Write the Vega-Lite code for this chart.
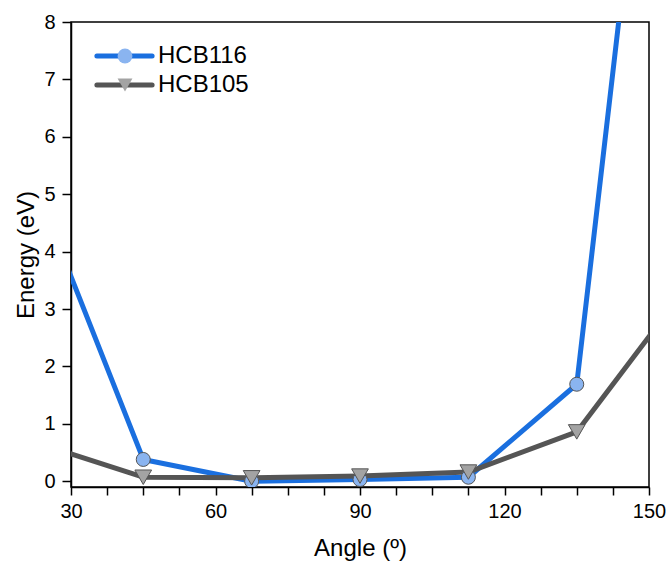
{
  "$schema": "https://vega.github.io/schema/vega-lite/v6.json",
  "autosize": "none",
  "padding": {"left": 71, "top": 22, "right": 19, "bottom": 76},
  "width": 578,
  "height": 465,
  "background": "white",
  "config": {
    "font": "Liberation Sans",
    "view": {"stroke": "black", "strokeWidth": 1.5},
    "axis": {"grid": false}
  },
  "data": {
    "values": [
      {"angle": 22.5, "energy": 5.16, "series": "HCB116"},
      {"angle": 45, "energy": 0.38, "series": "HCB116"},
      {"angle": 67.5, "energy": 0.0, "series": "HCB116"},
      {"angle": 90, "energy": 0.03, "series": "HCB116"},
      {"angle": 112.5, "energy": 0.07, "series": "HCB116"},
      {"angle": 135, "energy": 1.69, "series": "HCB116"},
      {"angle": 157.5, "energy": 18.0, "series": "HCB116"},
      {"angle": 22.5, "energy": 0.68, "series": "HCB105"},
      {"angle": 45, "energy": 0.07, "series": "HCB105"},
      {"angle": 67.5, "energy": 0.06, "series": "HCB105"},
      {"angle": 90, "energy": 0.09, "series": "HCB105"},
      {"angle": 112.5, "energy": 0.16, "series": "HCB105"},
      {"angle": 135, "energy": 0.86, "series": "HCB105"},
      {"angle": 157.5, "energy": 3.35, "series": "HCB105"}
    ]
  },
  "encoding": {
    "x": {
      "field": "angle", "type": "quantitative",
      "scale": {"domain": [30, 150], "nice": false, "zero": false},
      "axis": {
        "title": "Angle (º)",
        "values": [30, 37.5, 45, 52.5, 60, 67.5, 75, 82.5, 90, 97.5, 105, 112.5, 120, 127.5, 135, 142.5, 150],
        "format": "d",
        "labelExpr": "datum.value % 30 === 0 ? datum.label : ''",
        "labelOverlap": false,
        "labelFlush": false,
        "labelFontSize": 20,
        "labelColor": "black",
        "labelPadding": 6,
        "tickSize": 8,
        "tickWidth": 1.5,
        "tickColor": "black",
        "domainColor": "black",
        "domainWidth": 1.5,
        "titleFontSize": 24,
        "titleFontWeight": "normal",
        "titleColor": "black",
        "titlePadding": 15,
        "encode": {"ticks": {"update": {"y2": {"signal": "datum.value % 30 === 0 ? 8 : 4"}}}}
      }
    },
    "y": {
      "field": "energy", "type": "quantitative",
      "scale": {"domain": [-0.1, 8], "nice": false, "zero": false},
      "axis": {
        "title": "Energy (eV)",
        "values": [0, 0.25, 0.5, 0.75, 1, 1.25, 1.5, 1.75, 2, 2.25, 2.5, 2.75, 3, 3.25, 3.5, 3.75, 4, 4.25, 4.5, 4.75, 5, 5.25, 5.5, 5.75, 6, 6.25, 6.5, 6.75, 7, 7.25, 7.5, 7.75, 8],
        "format": "d",
        "labelExpr": "datum.value % 1 === 0 ? datum.label : ''",
        "labelOverlap": false,
        "labelFlush": false,
        "labelFontSize": 20,
        "labelColor": "black",
        "labelPadding": 7,
        "tickSize": 9,
        "tickWidth": 1.5,
        "tickColor": "black",
        "domainColor": "black",
        "domainWidth": 1.5,
        "titleFontSize": 24,
        "titleFontWeight": "normal",
        "titleColor": "black",
        "titlePadding": 5,
        "encode": {"ticks": {"update": {"x2": {"signal": "datum.value % 1 === 0 ? -9 : -4"}}}}
      }
    }
  },
  "layer": [
    {
      "mark": {"type": "line", "strokeWidth": 5, "clip": true, "strokeJoin": "round", "strokeCap": "round"},
      "encoding": {
        "color": {
          "field": "series", "type": "nominal", "sort": "descending",
          "scale": {"range": ["#1a6fdf", "#555555"]},
          "legend": {
            "title": null,
            "orient": "top-left",
            "offset": 22,
            "padding": 0,
            "symbolType": "M-4.6,0H4.6",
            "symbolSize": 144,
            "symbolStrokeWidth": 5,
            "symbolOffset": 19.5,
            "labelFontSize": 24,
            "labelOpacity": 0,
            "labelOffset": 21,
            "rowPadding": 5,
            "encode": {"symbols": {"update": {"strokeCap": {"value": "round"}}}}
          }
        }
      }
    },
    {
      "transform": [{"filter": "datum.angle >= 30 && datum.angle <= 150"}],
      "mark": {"type": "point", "filled": true, "opacity": 1, "stroke": "#555555", "strokeWidth": 1, "clip": true},
      "encoding": {
        "fill": {
          "field": "series", "type": "nominal",
          "scale": {"domain": ["HCB116", "HCB105"], "range": ["#8ab4f0", "#a3a3a3"]},
          "legend": {
            "title": null,
            "orient": "none",
            "legendX": 42,
            "legendY": 22,
            "padding": 0,
            "symbolSize": 220,
            "symbolStrokeWidth": 1,
            "symbolStrokeColor": "#555555",
            "symbolOpacity": 1,
            "labelFontSize": 24,
            "labelColor": "black",
            "labelOffset": 21,
            "rowPadding": 5
          }
        },
        "shape": {
          "field": "series", "type": "nominal",
          "scale": {"domain": ["HCB116", "HCB105"], "range": ["circle", "triangle-down"]},
          "legend": {
            "title": null,
            "orient": "none",
            "legendX": 42,
            "legendY": 22,
            "padding": 0,
            "symbolSize": 220,
            "symbolStrokeWidth": 1,
            "symbolStrokeColor": "#555555",
            "symbolOpacity": 1,
            "labelFontSize": 24,
            "labelColor": "black",
            "labelOffset": 21,
            "rowPadding": 5
          }
        },
        "size": {
          "field": "series", "type": "nominal",
          "scale": {"domain": ["HCB105", "HCB116"], "range": [280, 196]},
          "legend": null
        }
      }
    }
  ]
}
